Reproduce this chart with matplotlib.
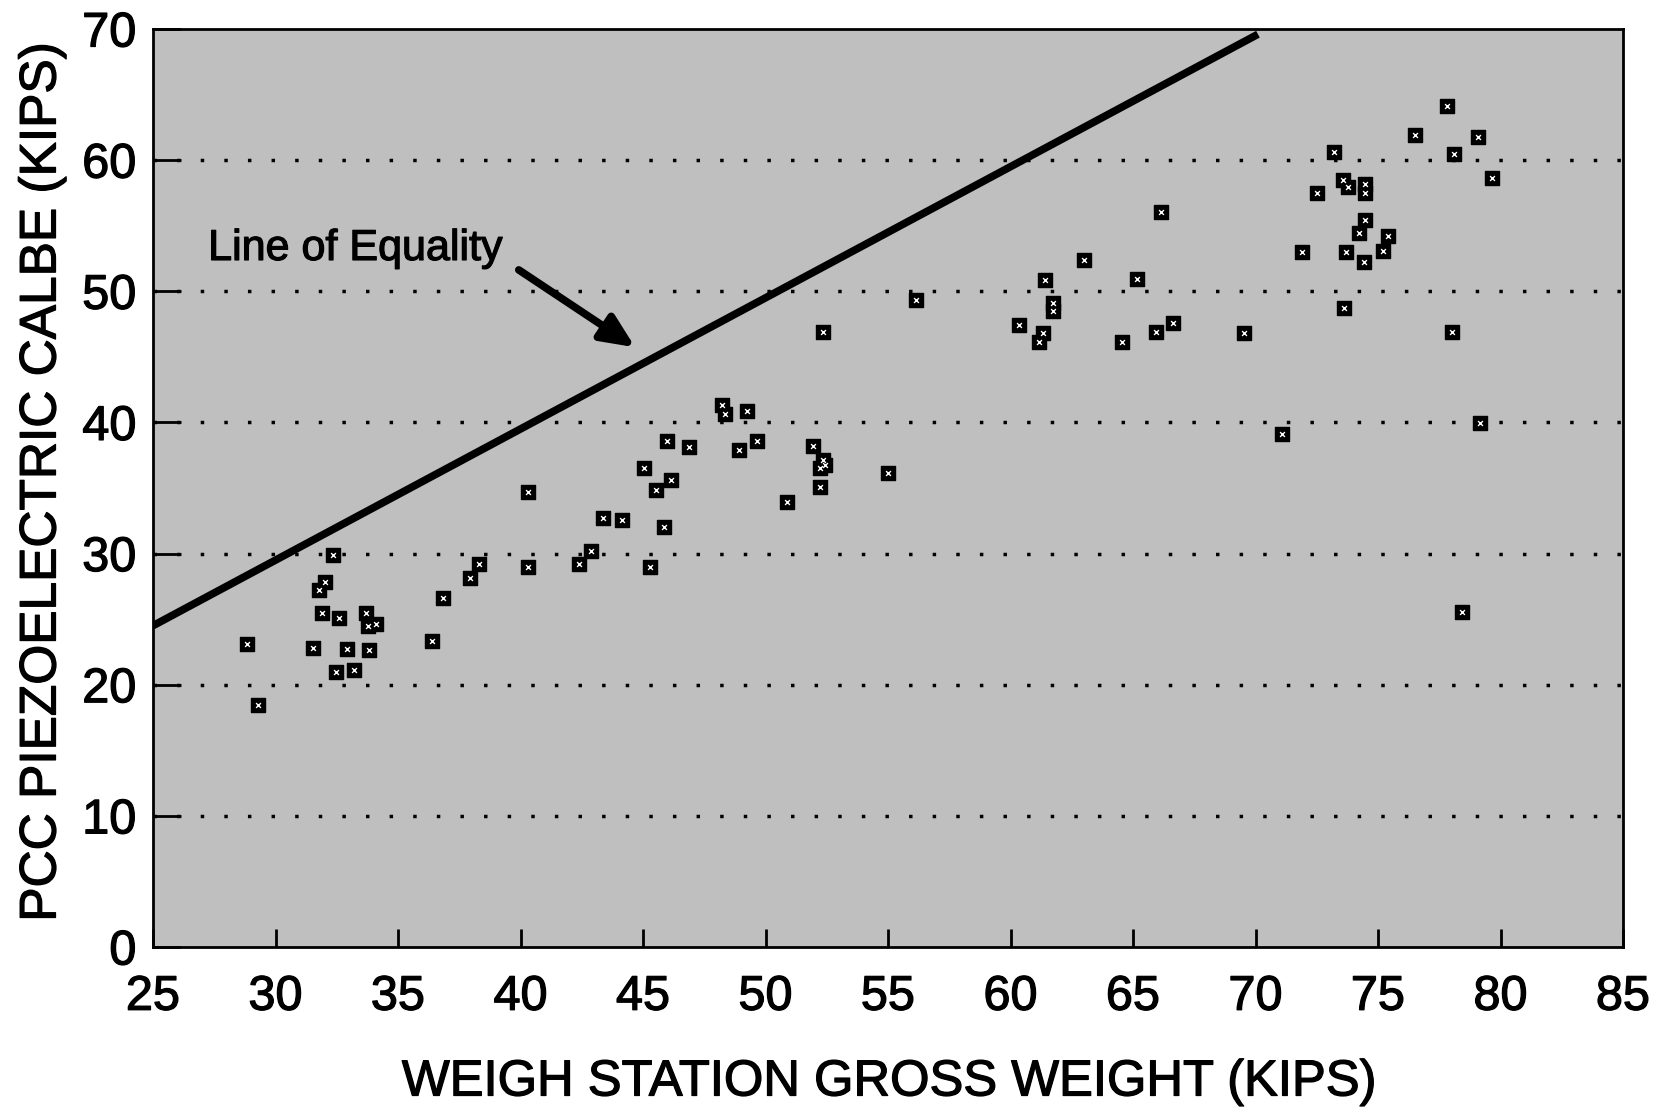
import matplotlib
matplotlib.use("Agg")
import matplotlib.pyplot as plt
import matplotlib.patheffects as pe

plt.rcParams['font.family'] = ['Liberation Sans', 'DejaVu Sans']

# Data
weigh_station = [28.82, 29.30, 31.52, 31.79, 32.00, 31.88, 32.36, 32.47, 32.61, 32.91,
                 33.21, 33.68, 33.76, 34.09, 33.82, 36.38, 36.84, 37.93, 38.32, 40.29,
                 40.32, 42.39, 42.86, 43.36, 44.15, 45.04, 45.27, 45.54, 45.86, 45.96,
                 46.14, 46.86, 48.21, 48.35, 48.93, 49.23, 49.67, 50.86, 51.95, 52.22,
                 52.22, 52.33, 52.43, 52.33, 55.01, 56.15, 60.34, 61.15, 61.33, 61.42,
                 61.75, 61.75, 62.98, 64.55, 65.17, 65.92, 66.15, 66.65, 69.55, 71.09,
                 71.88, 72.50, 73.20, 73.58, 73.79, 73.68, 73.63, 74.23, 74.46, 74.46,
                 74.46, 74.41, 75.22, 75.41, 76.49, 77.80, 78.11, 78.00, 78.43, 79.09,
                 79.17, 79.64]
piezo = [23.13, 18.48, 22.80, 27.21, 27.84, 25.48, 29.88, 20.98, 25.12, 22.75,
         21.10, 25.48, 24.46, 24.66, 22.62, 23.34, 26.58, 28.12, 29.17, 34.71,
         28.98, 29.17, 30.19, 32.72, 32.55, 36.49, 28.98, 34.81, 32.06, 38.57,
         35.58, 38.10, 41.33, 40.61, 37.90, 40.89, 38.57, 33.94, 38.19, 35.09,
         36.49, 37.13, 36.75, 46.87, 36.18, 49.34, 47.46, 46.11, 46.80, 50.83,
         48.50, 49.10, 52.40, 46.10, 50.90, 46.86, 56.08, 47.61, 46.80, 39.11,
         52.98, 57.48, 60.60, 58.50, 57.96, 53.03, 48.75, 54.43, 58.18, 57.53,
         55.45, 52.26, 53.10, 54.22, 61.93, 64.16, 60.44, 46.92, 25.53, 61.76,
         39.92, 58.64]

equality_x = [25.0, 70.1]
equality_y = [24.5, 69.6]

x_ticks = [25, 30, 35, 40, 45, 50, 55, 60, 65, 70, 75, 80, 85]
y_ticks = [0, 10, 20, 30, 40, 50, 60, 70]
grid_levels = [10, 20, 30, 40, 50, 60]

heavy = [pe.withStroke(linewidth=0.9, foreground='black')]

fig = plt.figure(figsize=(16.6, 11.12), dpi=100)
ax = fig.add_axes([153/1660, 1 - 947/1112, (1623-153)/1660, (947-29)/1112])
ax.set_facecolor('#bfbfbf')

ax.set_xlim(25, 85)
ax.set_ylim(0, 70)

for g in grid_levels:
    ax.axhline(g, color='black', lw=2.5, linestyle=(0, (1, 5.8)), zorder=1)

ax.plot(equality_x, equality_y, color='black', lw=5.5, solid_capstyle='butt', zorder=2)

ax.scatter(weigh_station, piezo, marker='s', s=90, color='black', zorder=3)
ax.scatter(weigh_station, piezo, marker='x', s=12, color='white', linewidths=1.0, zorder=4)

ax.text(27.25, 52.39, 'Line of Equality', fontsize=31, va='baseline', ha='left',
        zorder=5, path_effects=heavy)
ax.annotate('', xy=(44.68, 45.73), xytext=(39.93, 51.63),
            arrowprops=dict(arrowstyle='-|>,head_length=1.0,head_width=0.45', lw=5.5,
                            color='black', mutation_scale=20, shrinkA=0, shrinkB=0),
            zorder=5)

ax.set_xticks(x_ticks)
ax.set_yticks(y_ticks)
ax.tick_params(axis='x', direction='in', length=13, width=2, labelsize=35, pad=20,
               bottom=True, top=False)
ax.tick_params(axis='y', direction='in', length=20, width=2, labelsize=35, pad=12,
               left=True, right=False)
for lab in ax.get_xticklabels() + ax.get_yticklabels():
    lab.set_path_effects(heavy)
for s in ax.spines.values():
    s.set_linewidth(2)

ax.set_xlabel('WEIGH STATION GROSS WEIGHT (KIPS)', fontsize=36.5, va='center',
              path_effects=heavy)
ax.xaxis.set_label_coords((889-153)/1470, (947-1082)/918)
ax.set_ylabel('PCC PIEZOELECTRIC CALBE (KIPS)', fontsize=37, va='center',
              path_effects=heavy)
ax.yaxis.set_label_coords((42-153)/1470, 0.5065)

fig.savefig('out.png', dpi=100, facecolor='white')
